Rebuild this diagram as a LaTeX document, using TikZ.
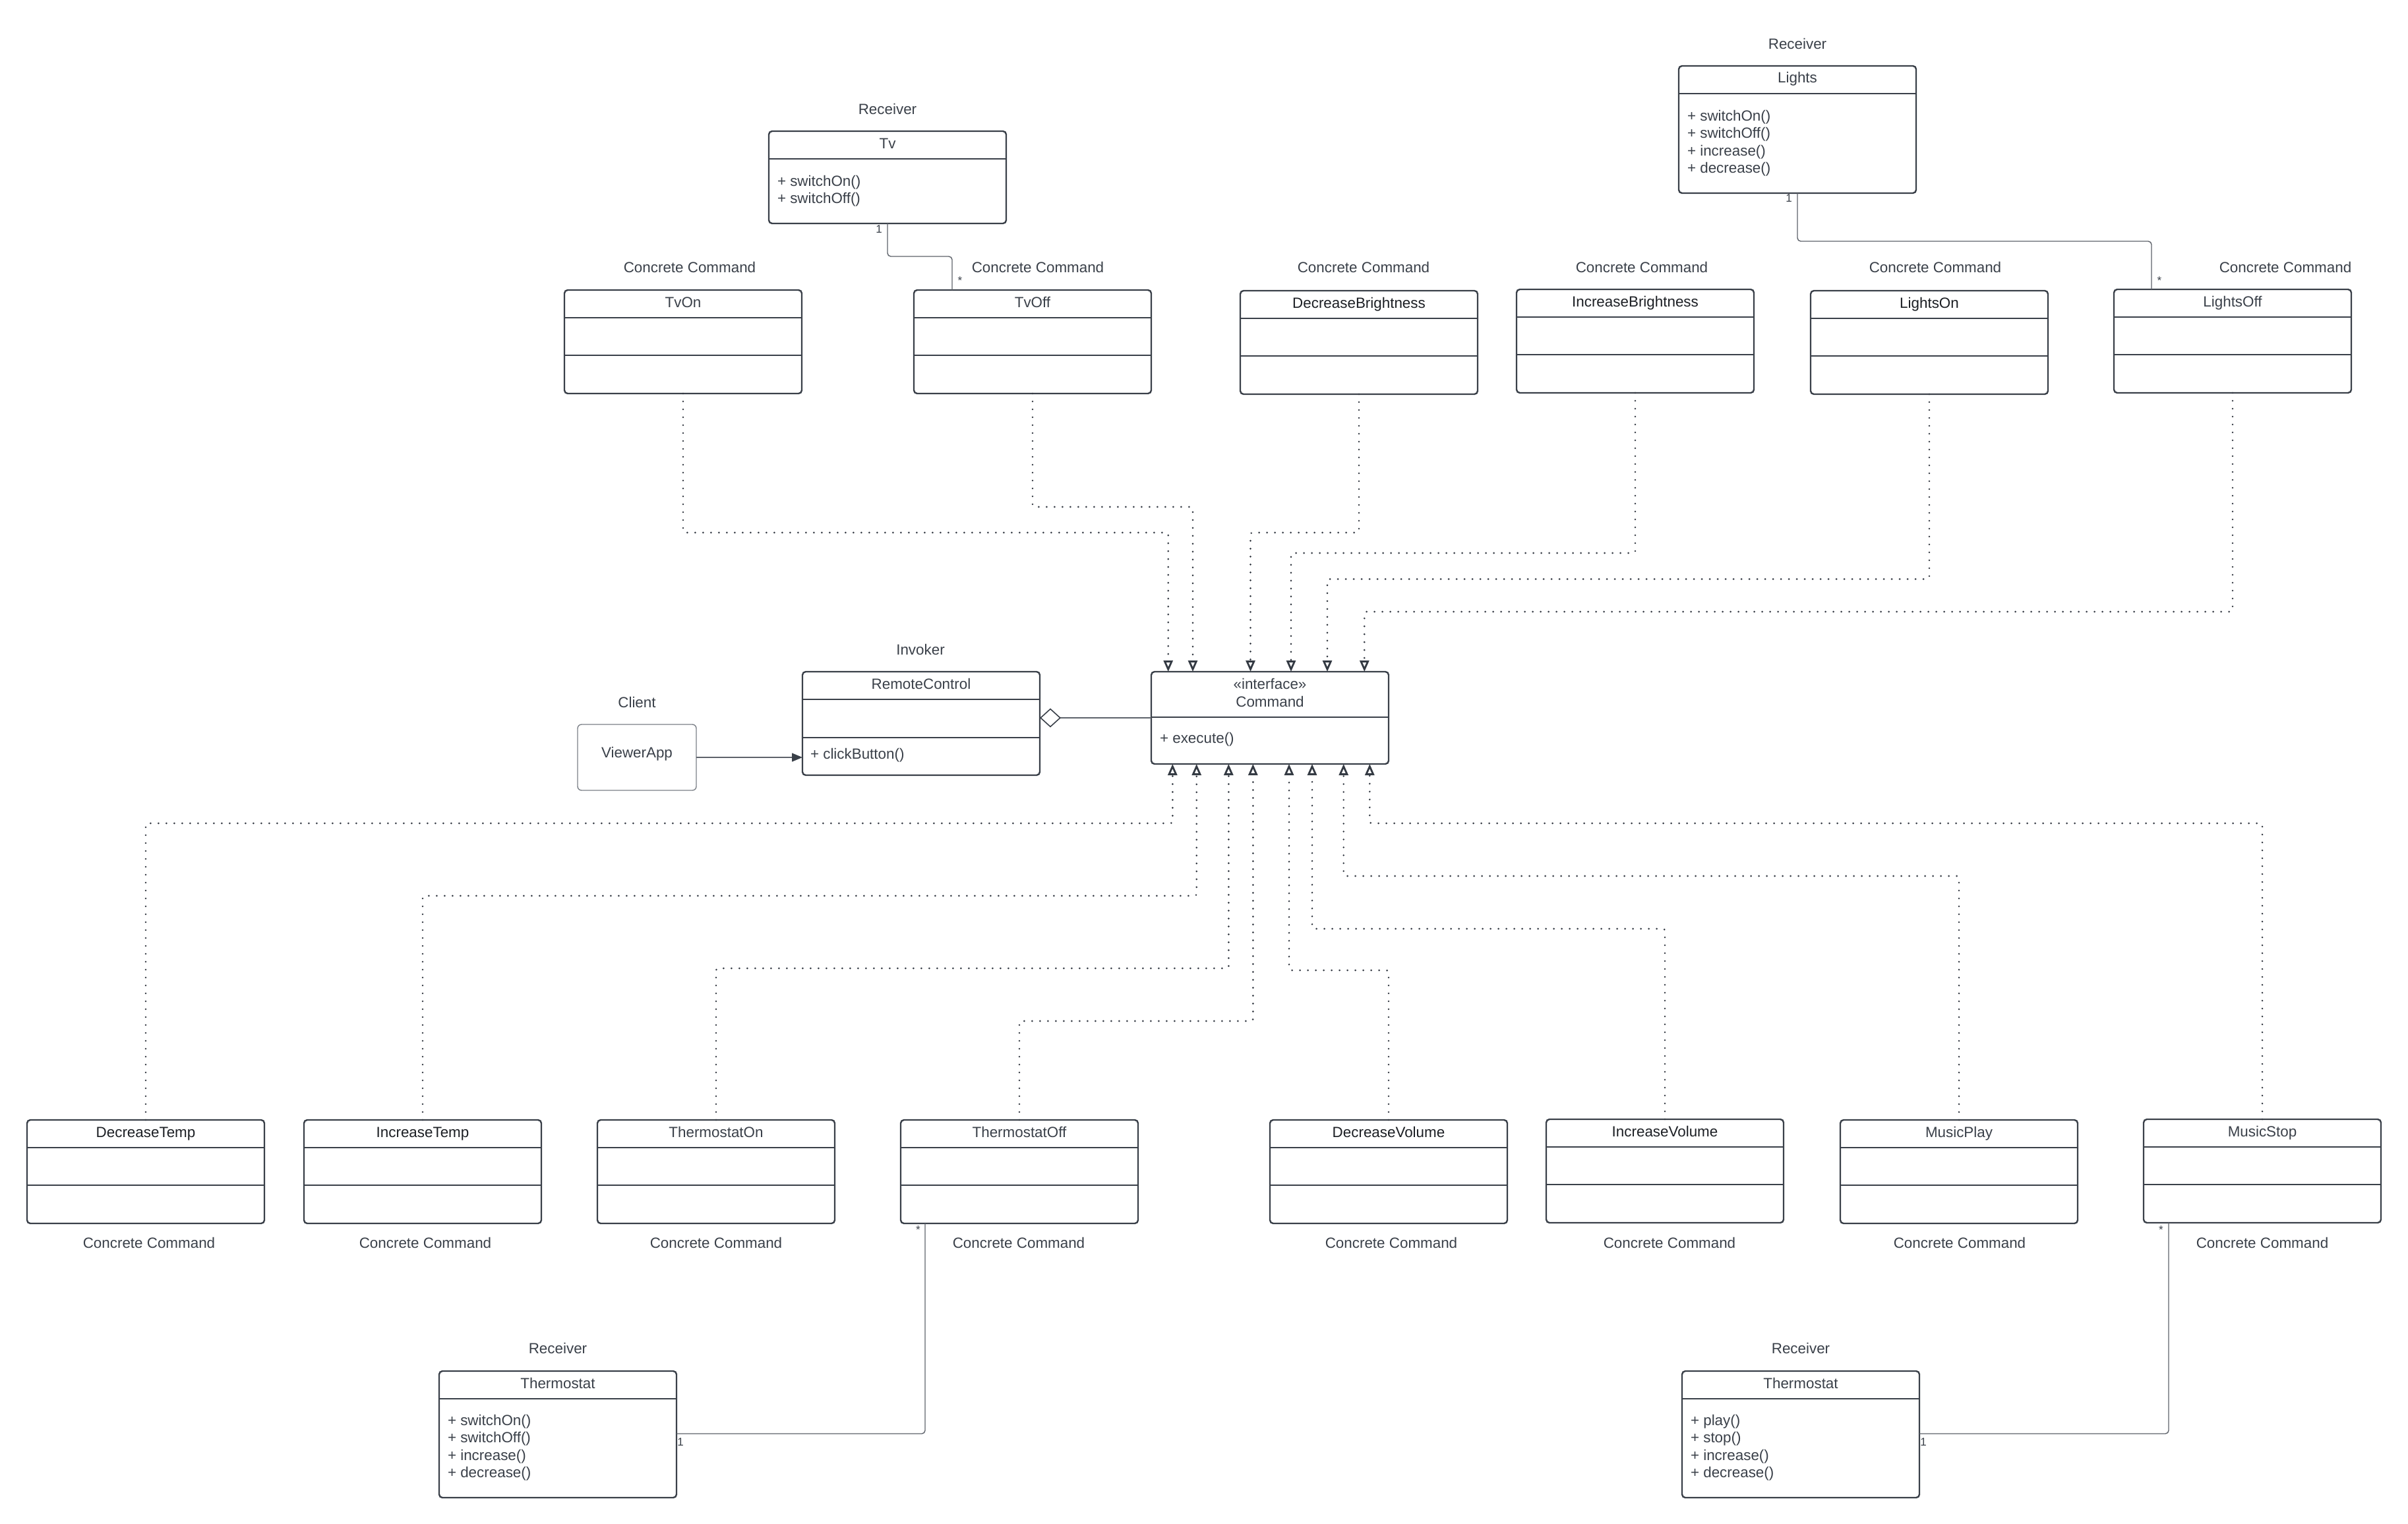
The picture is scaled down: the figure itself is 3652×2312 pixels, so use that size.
\documentclass[tikz,border=0pt]{standalone}
\usepackage{fontspec}
\setmainfont{Liberation Sans}
\usetikzlibrary{arrows.meta}

\definecolor{ink}{HTML}{3A4049}
\definecolor{deep}{HTML}{1C1F24}
\definecolor{wire}{HTML}{5E636B}
\definecolor{dotc}{HTML}{343A43}
\definecolor{soft}{HTML}{7C8188}

\newcommand{\dgfont}{\fontsize{22.4}{26}\selectfont}
\newcommand{\mulfont}{\fontsize{17}{20}\selectfont}

\tikzset{
  cls/.style={draw=ink, line width=2.4pt, rounded corners=5pt, fill=white,
    anchor=north west, inner sep=0pt, outer sep=0pt, minimum width=360pt},
  sepline/.style={draw=ink, line width=2.4pt},
  lbl/.style={text=ink, font=\dgfont, inner sep=0pt, outer sep=0pt, anchor=base},
  mth/.style={lbl, anchor=base west},
  mul/.style={text=ink, font=\mulfont, inner sep=0pt, anchor=center},
  realize/.style={draw=dotc, line width=2.9pt, line cap=round,
    dash pattern=on 0pt off 12pt, rounded corners=3pt,
    -{Triangle[open, length=17pt, width=14pt, line width=2.8pt]}},
  assoc/.style={draw=wire, line width=1.4pt, rounded corners=5pt},
}

% concrete command class: three compartments, name in the top one
% [title colour]{name}{x}{y}{title}
\newcommand{\ccbox}[5][ink]{%
  \node[cls, minimum height=157pt] (#2) at (#3,#4) {};
  \draw[sepline] ([yshift=-42pt]#2.north west) -- ([yshift=-42pt]#2.north east);
  \draw[sepline] ([yshift=-99pt]#2.north west) -- ([yshift=-99pt]#2.north east);
  \node[lbl, text=#1] (#2-t) at ([yshift=-26pt]#2.north) {#5};
}

% receiver class: name compartment plus operations compartment
% {name}{x}{y}{height}{title}
\newcommand{\rcvbox}[5]{%
  \node[cls, minimum height=#4pt] (#1) at (#2,#3) {};
  \draw[sepline] ([yshift=-42pt]#1.north west) -- ([yshift=-42pt]#1.north east);
  \node[lbl] (#1-t) at ([yshift=-26pt]#1.north) {#5};
}

\begin{document}
\begin{tikzpicture}[x=1pt, y=-1pt]
\fill[white] (0,0) rectangle (3652,2312);
\useasboundingbox (0,0) rectangle (3652,2312);

% ---------------- receivers at the top ----------------
\node[lbl] (tv-r) at (1346,173) {Receiver};
\rcvbox{tv}{1166}{199}{140}{Tv}
\node[mth] (tv-m1) at (1179,282) {+ switchOn()};
\node[mth] (tv-m2) at (1179,308.5) {+ switchOff()};

\node[lbl] (li-r) at (2726,75) {Receiver};
\rcvbox{lights}{2546}{100}{193}{Lights}
\node[mth] (li-m1) at (2559,183) {+ switchOn()};
\node[mth] (li-m2) at (2559,209.5) {+ switchOff()};
\node[mth] (li-m3) at (2559,236) {+ increase()};
\node[mth] (li-m4) at (2559,262.5) {+ decrease()};

% ---------------- upper concrete commands ----------------
\ccbox{tvon}{856}{440}{TvOn}
\ccbox{tvoff}{1386}{440}{TvOff}
\ccbox[deep]{dbri}{1881}{441}{DecreaseBrightness}
\ccbox[deep]{ibri}{2300}{439}{IncreaseBrightness}
\ccbox[deep]{lon}{2746}{441}{LightsOn}
\ccbox{loff}{3206}{439}{LightsOff}

\node[lbl] (tvon-c) at (1046,413) {Concrete Command};
\node[lbl] (tvoff-c) at (1574,413) {Concrete Command};
\node[lbl] (dbri-c) at (2068,413) {Concrete Command};
\node[lbl] (ibri-c) at (2490,413) {Concrete Command};
\node[lbl] (lon-c) at (2935,413) {Concrete Command};
\node[lbl] (loff-c) at (3466,413) {Concrete Command};

% ---------------- client, invoker, command interface ----------------
\node[lbl] (cl-r) at (966,1073) {Client};
\node[draw=soft, line width=1.4pt, rounded corners=6pt, minimum width=180pt,
  minimum height=100pt, anchor=north west, inner sep=0pt, outer sep=0pt] (va) at (876,1099) {};
\node[lbl] (va-t) at (966,1149) {ViewerApp};

\node[lbl] (rc-r) at (1396,993) {Invoker};
\node[cls, minimum height=157pt] (rc) at (1217,1019) {};
\draw[sepline] ([yshift=-42pt]rc.north west) -- ([yshift=-42pt]rc.north east);
\draw[sepline] ([yshift=-100pt]rc.north west) -- ([yshift=-100pt]rc.north east);
\node[lbl] (rc-t) at ([yshift=-26pt]rc.north) {RemoteControl};
\node[mth] (rc-m) at ([xshift=12pt,yshift=-132pt]rc.north west) {+ clickButton()};

\node[cls, minimum height=140pt] (cmd) at (1746,1019) {};
\draw[sepline] ([yshift=-69pt]cmd.north west) -- ([yshift=-69pt]cmd.north east);
\node[lbl] (cmd-s) at ([yshift=-26pt]cmd.north) {«interface»};
\node[lbl] (cmd-t) at ([yshift=-53pt]cmd.north) {Command};
\node[mth] (cmd-m) at ([xshift=13pt,yshift=-108pt]cmd.north west) {+ execute()};

% ---------------- lower concrete commands ----------------
\ccbox[deep]{dtemp}{41}{1699}{DecreaseTemp}
\ccbox[deep]{itemp}{461}{1699}{IncreaseTemp}
\ccbox{ton}{906}{1699}{ThermostatOn}
\ccbox{toff}{1366}{1699}{ThermostatOff}
\ccbox[deep]{dvol}{1926}{1699}{DecreaseVolume}
\ccbox[deep]{ivol}{2345}{1698}{IncreaseVolume}
\ccbox{mplay}{2791}{1699}{MusicPlay}
\ccbox{mstop}{3251}{1698}{MusicStop}

\node[lbl] (dtemp-c) at (226,1893) {Concrete Command};
\node[lbl] (itemp-c) at (645,1893) {Concrete Command};
\node[lbl] (ton-c) at (1086,1893) {Concrete Command};
\node[lbl] (toff-c) at (1545,1893) {Concrete Command};
\node[lbl] (dvol-c) at (2110,1893) {Concrete Command};
\node[lbl] (ivol-c) at (2532,1893) {Concrete Command};
\node[lbl] (mplay-c) at (2972,1893) {Concrete Command};
\node[lbl] (mstop-c) at (3431,1893) {Concrete Command};

% ---------------- receivers at the bottom ----------------
\node[lbl] (tha-r) at (846,2053) {Receiver};
\rcvbox{thA}{666}{2080}{192}{Thermostat}
\node[mth] (tha-m1) at (679,2162) {+ switchOn()};
\node[mth] (tha-m2) at (679,2188.5) {+ switchOff()};
\node[mth] (tha-m3) at (679,2215) {+ increase()};
\node[mth] (tha-m4) at (679,2241.5) {+ decrease()};

\node[lbl] (thb-r) at (2731,2053) {Receiver};
\rcvbox{thB}{2551}{2080}{192}{Thermostat}
\node[mth] (thb-m1) at (2564,2162) {+ play()};
\node[mth] (thb-m2) at (2564,2188.5) {+ stop()};
\node[mth] (thb-m3) at (2564,2215) {+ increase()};
\node[mth] (thb-m4) at (2564,2241.5) {+ decrease()};

% ---------------- realization ports on the interface ----------------
\coordinate (ct1) at ([xshift=25.7pt]cmd.north west);
\coordinate (ct2) at ([xshift=63pt]cmd.north west);
\coordinate (ct3) at ([xshift=150.5pt]cmd.north west);
\coordinate (ct4) at ([xshift=212pt]cmd.north west);
\coordinate (ct5) at ([xshift=267pt]cmd.north west);
\coordinate (ct6) at ([xshift=323.3pt]cmd.north west);

\coordinate (cb1) at ([xshift=32.3pt]cmd.south west);
\coordinate (cb2) at ([xshift=68.7pt]cmd.south west);
\coordinate (cb3) at ([xshift=117.3pt]cmd.south west);
\coordinate (cb4) at ([xshift=154.3pt]cmd.south west);
\coordinate (cb5) at ([xshift=209pt]cmd.south west);
\coordinate (cb6) at ([xshift=244pt]cmd.south west);
\coordinate (cb7) at ([xshift=291.7pt]cmd.south west);
\coordinate (cb8) at ([xshift=331.3pt]cmd.south west);

% upper realizations
\draw[realize] (tvon.south)  |- ([yshift=211pt]ct1) -- (ct1);
\draw[realize] (tvoff.south) |- ([yshift=250pt]ct2) -- (ct2);
\draw[realize] (dbri.south)  |- ([yshift=211pt]ct3) -- (ct3);
\draw[realize] (ibri.south)  |- ([yshift=180pt]ct4) -- (ct4);
\draw[realize] (lon.south)   |- ([yshift=140.5pt]ct5) -- (ct5);
\draw[realize] (loff.south)  |- ([yshift=91pt]ct6) -- (ct6);

% lower realizations
\draw[realize] (dtemp.north) |- ([yshift=-90pt]cb1) -- (cb1);
\draw[realize] (itemp.north) |- ([yshift=-200pt]cb2) -- (cb2);
\draw[realize] (ton.north)   |- ([yshift=-310pt]cb3) -- (cb3);
\draw[realize] (toff.north)  |- ([yshift=-390pt]cb4) -- (cb4);
\draw[realize] (dvol.north)  |- ([yshift=-313pt]cb5) -- (cb5);
\draw[realize] (ivol.north)  |- ([yshift=-250pt]cb6) -- (cb6);
\draw[realize] (mplay.north) |- ([yshift=-170pt]cb7) -- (cb7);
\draw[realize] (mstop.north) |- ([yshift=-90pt]cb8) -- (cb8);

% ---------------- associations with receivers ----------------
\draw[assoc] (tv.south) -- ++(0,50) -| ([xshift=58pt]tvoff.north west);
\draw[assoc] (lights.south) -- ++(0,73) -| ([xshift=57pt]loff.north west);
\draw[assoc] ([xshift=37pt]toff.south west) |- ([yshift=-95pt]thA.north east);
\draw[assoc] ([xshift=38pt]mstop.south west) |- ([yshift=-95pt]thB.north east);

\node[mul] (mu1) at (1333,347.5) {1};
\node[mul] (mu2) at (1456,426) {*};
\node[mul] (mu3) at (2713,301) {1};
\node[mul] (mu4) at (3275,426) {*};
\node[mul] (mu5) at (1392.5,1866) {*};
\node[mul] (mu6) at (1032,2188) {1};
\node[mul] (mu7) at (3277.5,1866) {*};
\node[mul] (mu8) at (2917,2188) {1};

% ---------------- invoker links ----------------
\draw[assoc, rounded corners=0pt,
  {Diamond[open, length=32pt, width=29pt, line width=1.6pt, color=ink]}-]
  ([yshift=-70pt]rc.north east) -- ([yshift=-70pt]cmd.north west);
\draw[assoc, rounded corners=0pt, -{Triangle[length=16pt, width=13pt, color=ink]}]
  (va.east) -- (va.east -| rc.west);
\end{tikzpicture}
\end{document}
